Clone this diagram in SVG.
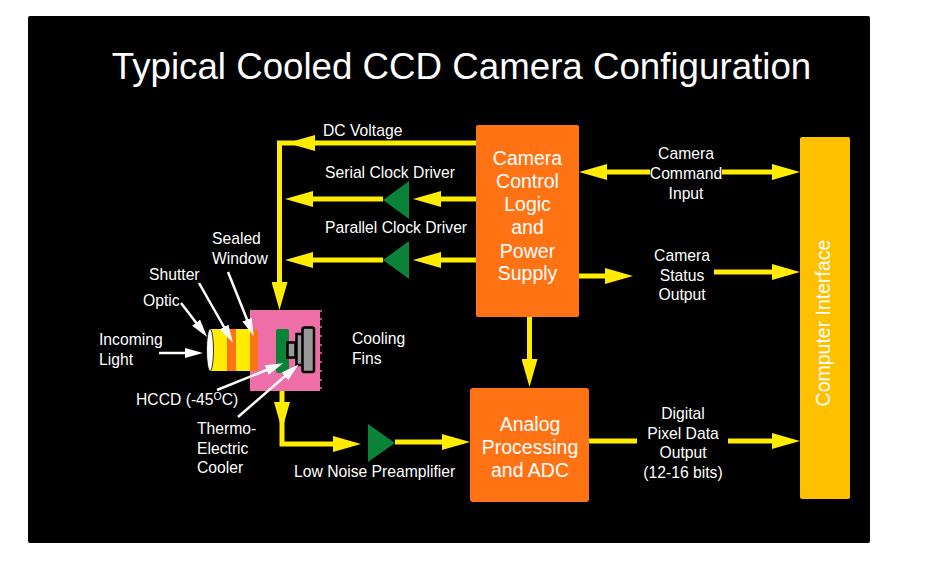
<svg xmlns="http://www.w3.org/2000/svg" width="927" height="561" viewBox="0 0 927 561">
<style>
text{font-family:"Liberation Sans",Arial,sans-serif;fill:#fff}
.l{font-size:15.7px}
.m{text-anchor:middle}
.b{font-size:19.5px;text-anchor:middle}
.y{fill:none;stroke:#ffec00;stroke-width:5}
.w{fill:none;stroke:#fff;stroke-width:2.5}
.amp{fill:#0a8237}
.g{fill:#999;stroke:#000;stroke-width:2.5}
.fin{stroke:#ee6fa8;stroke-width:1.5}
</style>
<defs>
<marker id="ya" markerUnits="userSpaceOnUse" markerWidth="28" markerHeight="16" refX="18" refY="8" orient="auto"><path d="M0 0L28 8L0 16Z" fill="#ffec00"/></marker>
<marker id="wa" markerUnits="userSpaceOnUse" markerWidth="18" markerHeight="10" refX="8" refY="5" orient="auto"><path d="M0 0L18 5L0 10Z" fill="#fff"/></marker>
</defs>
<rect width="927" height="561" fill="#fff"/>
<rect x="28" y="16" width="842" height="527" rx="2" fill="#000"/>
<text id="title" x="461.5" y="79" font-size="36.7" text-anchor="middle">Typical Cooled CCD Camera Configuration</text>

<g id="connectors">
<path class="y" d="M476 143H297" marker-end="url(#ya)"/>
<path class="y" d="M300 143H279.500V300" marker-end="url(#ya)"/>
<path class="y" d="M476 199H423" marker-end="url(#ya)"/>
<path class="y" d="M383 199H295" marker-end="url(#ya)"/>
<path class="y" d="M476 260H423" marker-end="url(#ya)"/>
<path class="y" d="M383 260H295" marker-end="url(#ya)"/>
<path class="y" d="M650 172H589" marker-end="url(#ya)"/>
<path class="y" d="M722 172H790" marker-end="url(#ya)"/>
<path class="y" d="M579 276H623" marker-end="url(#ya)"/>
<path class="y" d="M714 272H790" marker-end="url(#ya)"/>
<path class="y" d="M529.500 317V377" marker-end="url(#ya)"/>
<path class="y" d="M282 391V420" marker-end="url(#ya)"/>
<path class="y" d="M282 415V444H351" marker-end="url(#ya)"/>
<path class="y" d="M395 442H460" marker-end="url(#ya)"/>
<path class="y" d="M589 441H637"/>
<path class="y" d="M728 441H790" marker-end="url(#ya)"/>
</g>

<g id="camera-control">
<rect x="476" y="125" width="103" height="192" rx="2" fill="#ff7315"/>
<text class="b" x="527.500" y="165">Camera</text>
<text class="b" x="527.500" y="188">Control</text>
<text class="b" x="527.500" y="211">Logic</text>
<text class="b" x="527.500" y="234">and</text>
<text class="b" x="527.500" y="258">Power</text>
<text class="b" x="527.500" y="280">Supply</text>
</g>
<g id="analog">
<rect x="470" y="388" width="119" height="114" rx="3" fill="#ff7315"/>
<text class="b" x="530" y="431">Analog</text>
<text class="b" x="530" y="454">Processing</text>
<text class="b" x="530" y="477">and ADC</text>
</g>
<g id="computer-interface">
<rect x="800" y="137" width="50" height="362" rx="2" fill="#ffc000"/>
<text class="m" transform="translate(830 323) rotate(-90)" font-size="19.500">Computer Interface</text>
</g>

<g id="serial-amp"><path class="amp" d="M383 200L409 181V219Z"/></g>
<g id="parallel-amp"><path class="amp" d="M383 260L409 241V279Z"/></g>
<g id="preamp"><path class="amp" d="M395 443L368 424V462Z"/></g>

<g id="camera-head">
<path class="fin" d="M320 311h2M320 319h2M320 336h2M320 353h2M320 371h2M320 388h2M320 327h2M320 345h2M320 362h2M320 380h2"/>
<rect x="250" y="310" width="70" height="81" fill="#ee6fa8"/>
<rect x="209" y="329" width="19" height="42" fill="#ffec00"/>
<rect x="227" y="329" width="9" height="42" fill="#ff7315"/>
<rect x="236" y="329" width="14" height="42" fill="#ffec00"/>
<rect x="250" y="329" width="8" height="42" fill="#ff7315"/>
<ellipse cx="210" cy="350" rx="3.500" ry="21" fill="#fff" stroke="#000" stroke-width="0.800"/>
<rect x="276" y="329" width="13" height="44" rx="2" fill="#0a8237"/>
<rect x="287.500" y="342.500" width="8" height="15" class="g"/>
<rect x="296.500" y="334" width="6.500" height="31" class="g"/>
<rect x="302.500" y="327.500" width="11.500" height="44.500" rx="2" class="g"/>
</g>

<g id="callouts">
<path class="w" d="M159 353H193" marker-end="url(#wa)"/>
<path class="w" d="M181 303L201 329" marker-end="url(#wa)"/>
<path class="w" d="M199 283L228 334" marker-end="url(#wa)"/>
<path class="w" d="M228 272L250 327" marker-end="url(#wa)"/>
<path class="w" d="M217 390L274 367" marker-end="url(#wa)"/>
<path class="w" d="M238 417L291 371" marker-end="url(#wa)"/>
</g>

<g id="labels">
<text class="l" x="323" y="136">DC Voltage</text>
<text class="l" x="325" y="178">Serial Clock Driver</text>
<text class="l" x="325" y="233">Parallel Clock Driver</text>
<text class="l m" x="686" y="159">Camera</text>
<text class="l m" x="686" y="179">Command</text>
<text class="l m" x="686" y="199">Input</text>
<text class="l m" x="682" y="261">Camera</text>
<text class="l m" x="682" y="281">Status</text>
<text class="l m" x="682" y="300">Output</text>
<text class="l m" x="683" y="419">Digital</text>
<text class="l m" x="683" y="439">Pixel Data</text>
<text class="l m" x="683" y="458">Output</text>
<text class="l m" x="683" y="478">(12-16 bits)</text>
<text class="l" x="294" y="477">Low Noise Preamplifier</text>
<text class="l" x="352" y="344">Cooling</text>
<text class="l" x="352" y="364">Fins</text>
<text class="l" x="212" y="244">Sealed</text>
<text class="l" x="212" y="264">Window</text>
<text class="l" x="149" y="280">Shutter</text>
<text class="l" x="143" y="306">Optic</text>
<text class="l" x="99" y="345">Incoming</text>
<text class="l" x="99" y="365">Light</text>
<text class="l" x="136" y="405">HCCD (-45<tspan font-size="10.500" dy="-5">O</tspan><tspan dy="5">C)</tspan></text>
<text class="l" x="197" y="434">Thermo-</text>
<text class="l" x="197" y="454">Electric</text>
<text class="l" x="197" y="473">Cooler</text>
</g>
</svg>
